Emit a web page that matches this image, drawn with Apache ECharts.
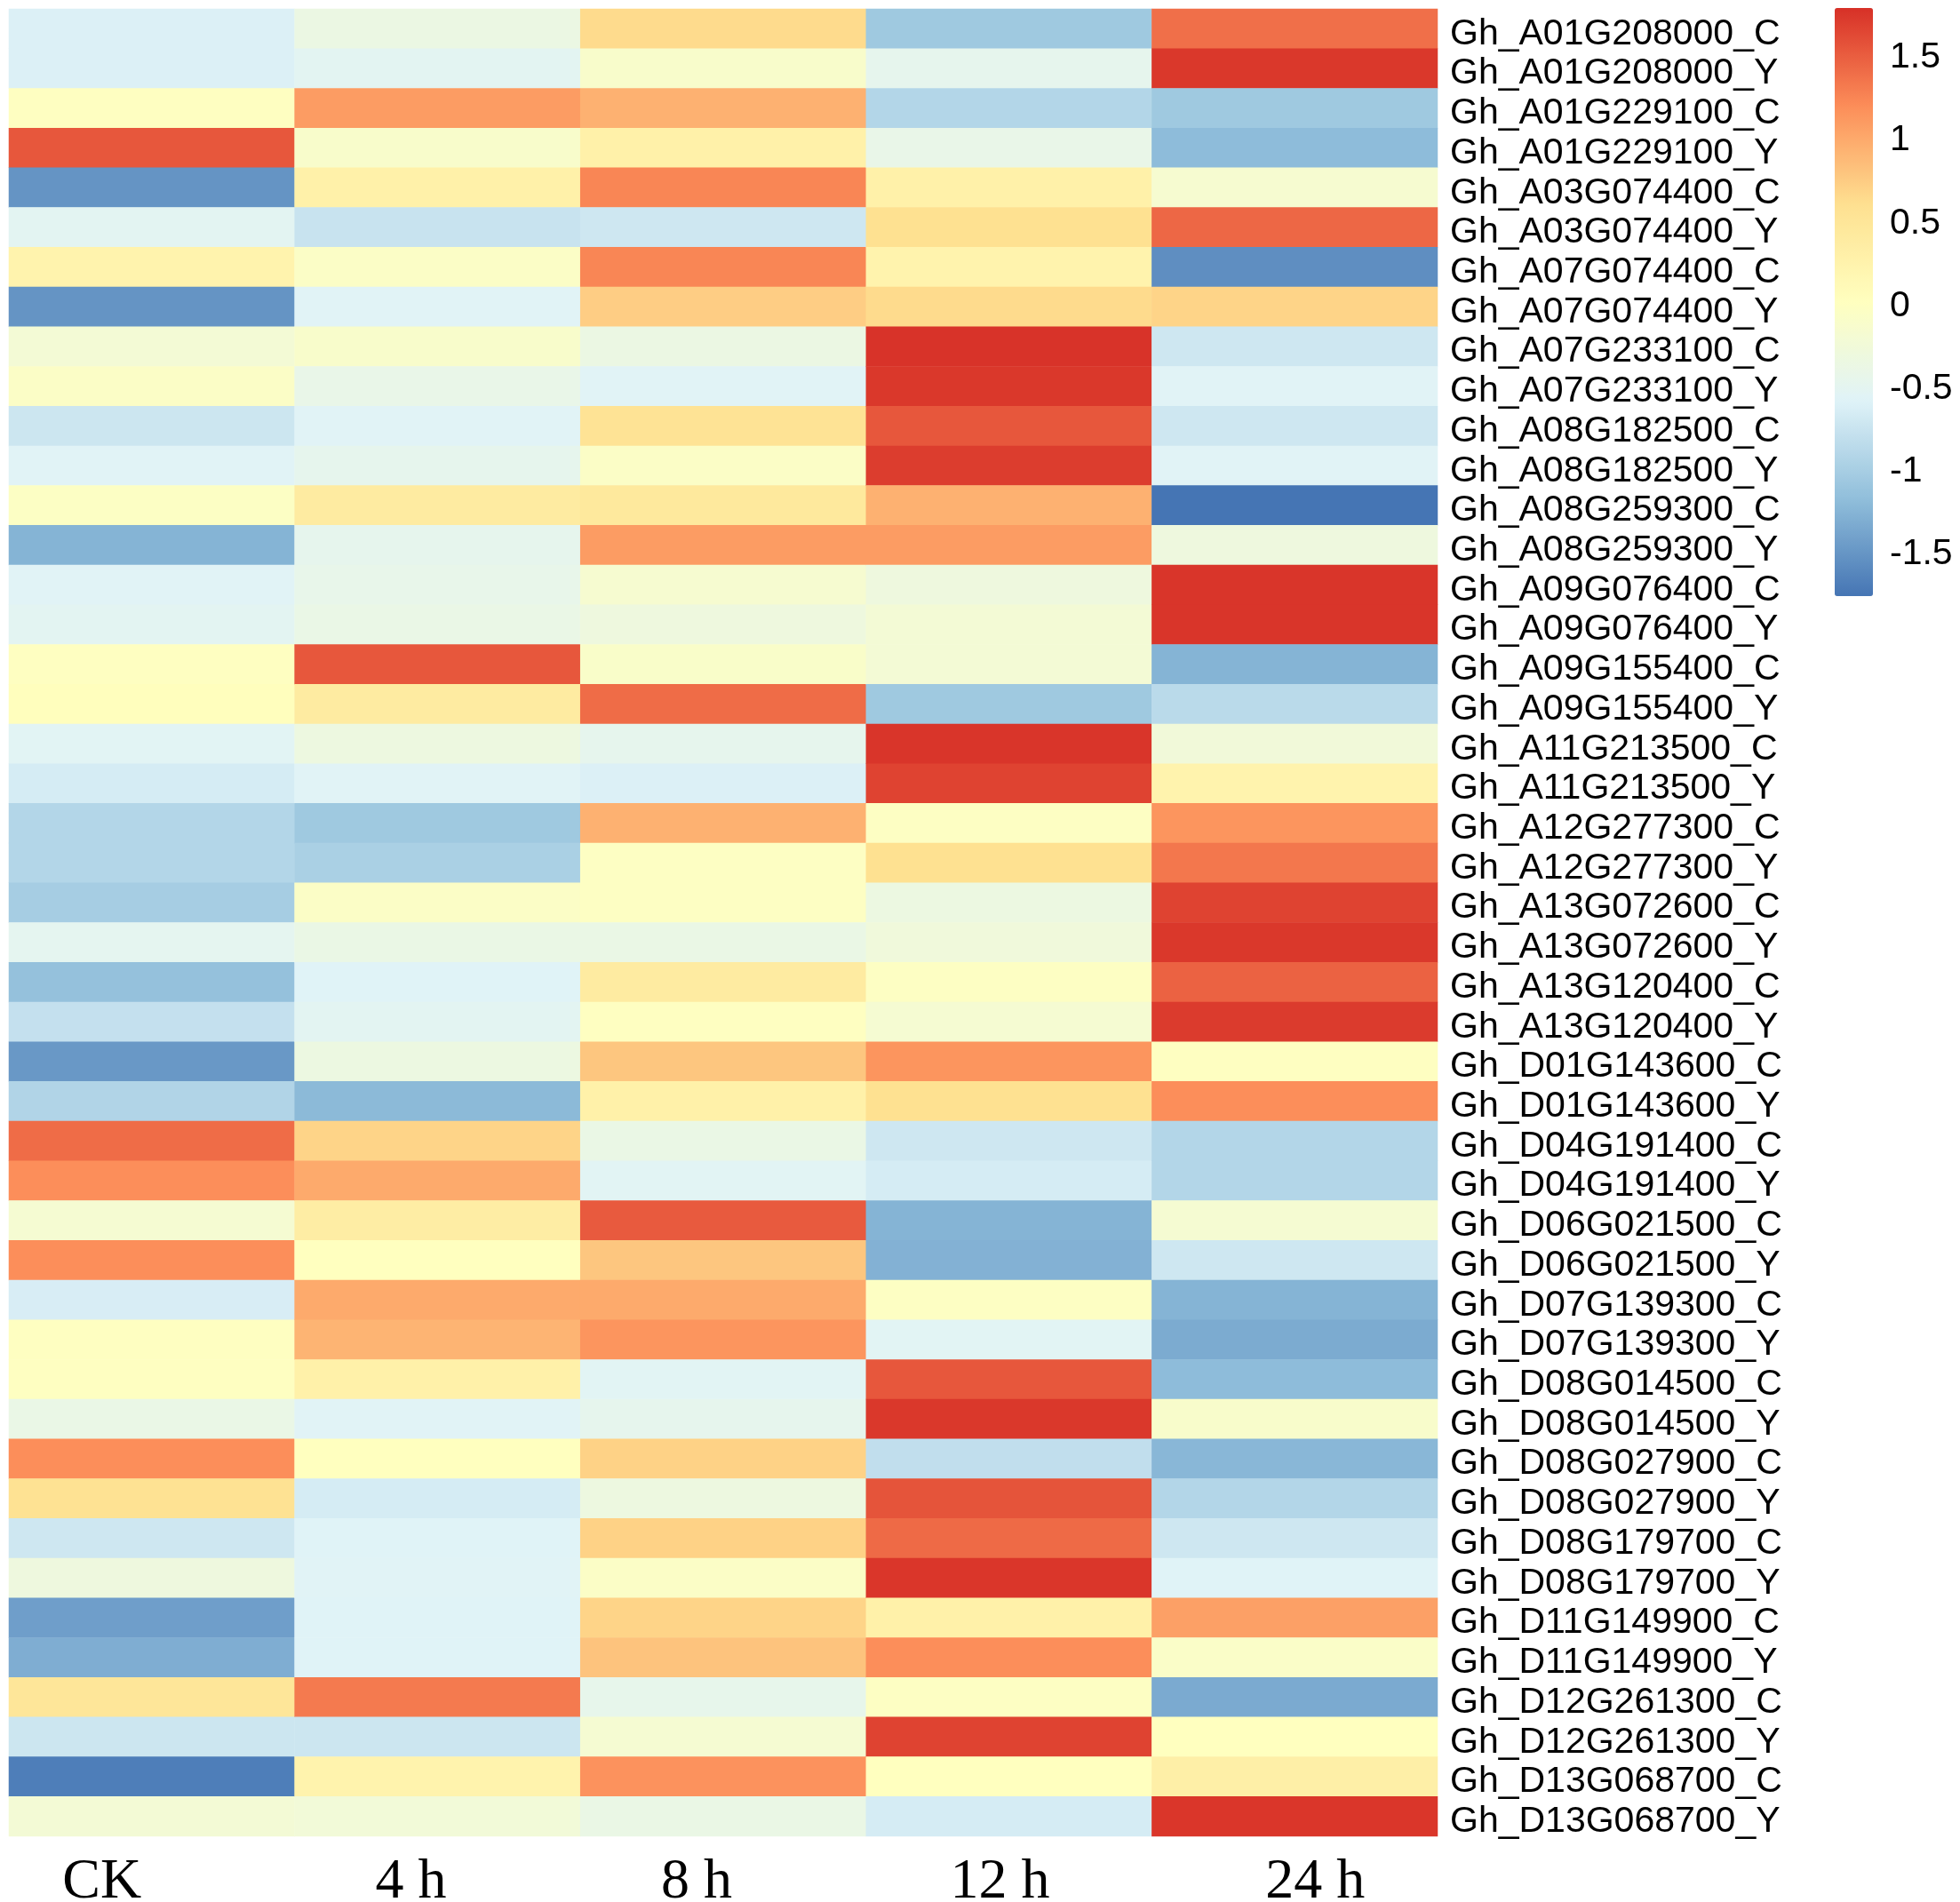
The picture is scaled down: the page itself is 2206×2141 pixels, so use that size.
<!DOCTYPE html>
<html>
<head>
  <meta charset="utf-8">
  <title>Heatmap</title>
  <script src="https://cdn.jsdelivr.net/npm/echarts@6.0.0/dist/echarts.min.js"></script>
  <style>
    html, body { margin: 0; padding: 0; background: #fff; }
    #main { width: 2206px; height: 2141px; }
  </style>
</head>
<body>
  <div id="main"></div>
  <script>
    // time points (columns)
    const times = ['CK', '4 h', '8 h', '12 h', '24 h'];

    // genes (rows, top to bottom)
    const genes = [
      'Gh_A01G208000_C', 'Gh_A01G208000_Y', 'Gh_A01G229100_C', 'Gh_A01G229100_Y',
      'Gh_A03G074400_C', 'Gh_A03G074400_Y', 'Gh_A07G074400_C', 'Gh_A07G074400_Y',
      'Gh_A07G233100_C', 'Gh_A07G233100_Y', 'Gh_A08G182500_C', 'Gh_A08G182500_Y',
      'Gh_A08G259300_C', 'Gh_A08G259300_Y', 'Gh_A09G076400_C', 'Gh_A09G076400_Y',
      'Gh_A09G155400_C', 'Gh_A09G155400_Y', 'Gh_A11G213500_C', 'Gh_A11G213500_Y',
      'Gh_A12G277300_C', 'Gh_A12G277300_Y', 'Gh_A13G072600_C', 'Gh_A13G072600_Y',
      'Gh_A13G120400_C', 'Gh_A13G120400_Y', 'Gh_D01G143600_C', 'Gh_D01G143600_Y',
      'Gh_D04G191400_C', 'Gh_D04G191400_Y', 'Gh_D06G021500_C', 'Gh_D06G021500_Y',
      'Gh_D07G139300_C', 'Gh_D07G139300_Y', 'Gh_D08G014500_C', 'Gh_D08G014500_Y',
      'Gh_D08G027900_C', 'Gh_D08G027900_Y', 'Gh_D08G179700_C', 'Gh_D08G179700_Y',
      'Gh_D11G149900_C', 'Gh_D11G149900_Y', 'Gh_D12G261300_C', 'Gh_D12G261300_Y',
      'Gh_D13G068700_C', 'Gh_D13G068700_Y'
    ];

    // scaled expression per time point, same order as genes
    const ck = [-0.6, -0.6, 0.0, 1.55, -1.5, -0.5, 0.25, -1.5, -0.2, -0.05,
      -0.72, -0.55, -0.03, -1.25, -0.55, -0.5, 0.0, 0.05, -0.52, -0.65,
      -0.9, -0.9, -1.0, -0.48, -1.13, -0.78, -1.47, -0.92, 1.42, 1.2,
      -0.17, 1.2, -0.63, 0.0, 0.0, -0.38, 1.2, 0.58, -0.7, -0.3,
      -1.42, -1.3, 0.5, -0.72, -1.68, -0.2];
    const h4 = [-0.35, -0.5, 1.1, -0.1, 0.3, -0.75, -0.05, -0.55, -0.1, -0.4,
      -0.55, -0.45, 0.4, -0.45, -0.42, -0.38, 1.55, 0.4, -0.32, -0.55,
      -1.05, -0.97, -0.05, -0.37, -0.56, -0.5, -0.33, -1.2, 0.7, 1.0,
      0.37, 0.02, 1.0, 0.93, 0.3, -0.55, 0.02, -0.65, -0.56, -0.55,
      -0.56, -0.56, 1.33, -0.72, 0.25, -0.23];
    const h8 = [0.65, -0.1, 0.95, 0.3, 1.25, -0.7, 1.25, 0.75, -0.35, -0.55,
      0.55, -0.05, 0.45, 1.1, -0.15, -0.3, -0.08, 1.42, -0.45, -0.6,
      0.95, -0.02, -0.02, -0.37, 0.4, 0.0, 0.8, 0.3, -0.37, -0.52,
      1.53, 0.8, 1.0, 1.15, -0.52, -0.45, 0.72, -0.32, 0.72, -0.05,
      0.7, 0.82, -0.43, -0.17, 1.17, -0.37];
    const h12 = [-1.05, -0.45, -0.9, -0.4, 0.3, 0.6, 0.25, 0.65, 1.78, 1.75,
      1.55, 1.72, 0.95, 1.1, -0.3, -0.2, -0.2, -1.05, 1.77, 1.68,
      -0.02, 0.6, -0.33, -0.27, -0.02, -0.17, 1.15, 0.6, -0.7, -0.65,
      -1.25, -1.27, -0.02, -0.52, 1.55, 1.75, -0.8, 1.57, 1.43, 1.76,
      0.3, 1.2, -0.02, 1.68, 0.02, -0.65];
    const h24 = [1.4, 1.75, -1.05, -1.18, -0.15, 1.45, -1.55, 0.7, -0.7, -0.55,
      -0.7, -0.55, -1.75, -0.3, 1.77, 1.77, -1.25, -0.85, -0.25, 0.25,
      1.15, 1.35, 1.68, 1.75, 1.48, 1.73, 0.0, 1.2, -0.9, -0.9,
      -0.17, -0.7, -1.25, -1.32, -1.18, -0.1, -1.22, -0.9, -0.7, -0.56,
      1.07, -0.07, -1.33, 0.02, 0.33, 1.76];

    // colour legend ticks
    const legendTicks = [-1.5, -1, -0.5, 0, 0.5, 1, 1.5];

    const columns = [ck, h4, h8, h12, h24];
    const cells = [];
    columns.forEach((col, x) => {
      col.forEach((v, y) => cells.push([x, y, v]));
    });

    // horizontal nudge of each time label (the labels are not centred on columns)
    const labelShift = [-56, -30, -30, -10, 23];
    const rich = {};
    labelShift.forEach((s, i) => {
      rich['s' + i] = {
        fontFamily: 'Liberation Serif',
        fontSize: 64,
        color: '#000',
        padding: s < 0 ? [0, -2 * s, 0, 0] : [0, 0, 0, 2 * s]
      };
    });

    const chart = echarts.init(document.getElementById('main'));

    const option = {
      animation: false,
      grid: [
        { left: 10, top: 10, width: 1608, height: 2057, outerBoundsMode: 'none' },
        { left: 2065, top: 65, width: 43, height: 559, outerBoundsMode: 'none' }
      ],
      xAxis: [
        {
          type: 'category',
          gridIndex: 0,
          data: times,
          position: 'bottom',
          axisLine: { show: false },
          axisTick: { show: false },
          splitLine: { show: false },
          axisLabel: {
            margin: 20,
            interval: 0,
            formatter: (v, i) => '{s' + i + '|' + v + '}',
            rich: rich
          }
        },
        {
          type: 'value',
          gridIndex: 1,
          show: false
        }
      ],
      yAxis: [
        {
          type: 'category',
          gridIndex: 0,
          data: genes,
          inverse: true,
          position: 'right',
          axisLine: { show: false },
          axisTick: { show: false },
          splitLine: { show: false },
          axisLabel: {
            margin: 14,
            interval: 0,
            formatter: v => '{g|' + v + '}',
            rich: {
              g: {
                fontFamily: 'Liberation Sans',
                fontSize: 41,
                color: '#000',
                padding: [12, 0, 0, 0]
              }
            }
          }
        },
        {
          type: 'value',
          gridIndex: 1,
          min: legendTicks[0],
          max: legendTicks[legendTicks.length - 1],
          interval: 0.5,
          position: 'right',
          axisLine: { show: false },
          axisTick: { show: false },
          splitLine: { show: false },
          axisLabel: {
            margin: 19,
            fontFamily: 'Liberation Sans',
            fontSize: 41,
            color: '#000'
          }
        }
      ],
      visualMap: {
        type: 'continuous',
        min: -1.75,
        max: 1.8,
        calculable: false,
        orient: 'vertical',
        left: 2065,
        top: 9,
        padding: 0,
        itemWidth: 43,
        itemHeight: 662,
        seriesIndex: 0,
        inRange: {
          color: ['#4575B4', '#91BFDB', '#E0F3F8', '#FFFFBF', '#FEE090', '#FC8D59', '#D73027']
        }
      },
      series: [
        {
          type: 'heatmap',
          xAxisIndex: 0,
          yAxisIndex: 0,
          data: cells,
          itemStyle: { borderWidth: 0 },
          emphasis: { disabled: true }
        }
      ]
    };

    chart.setOption(option);
  </script>
</body>
</html>
